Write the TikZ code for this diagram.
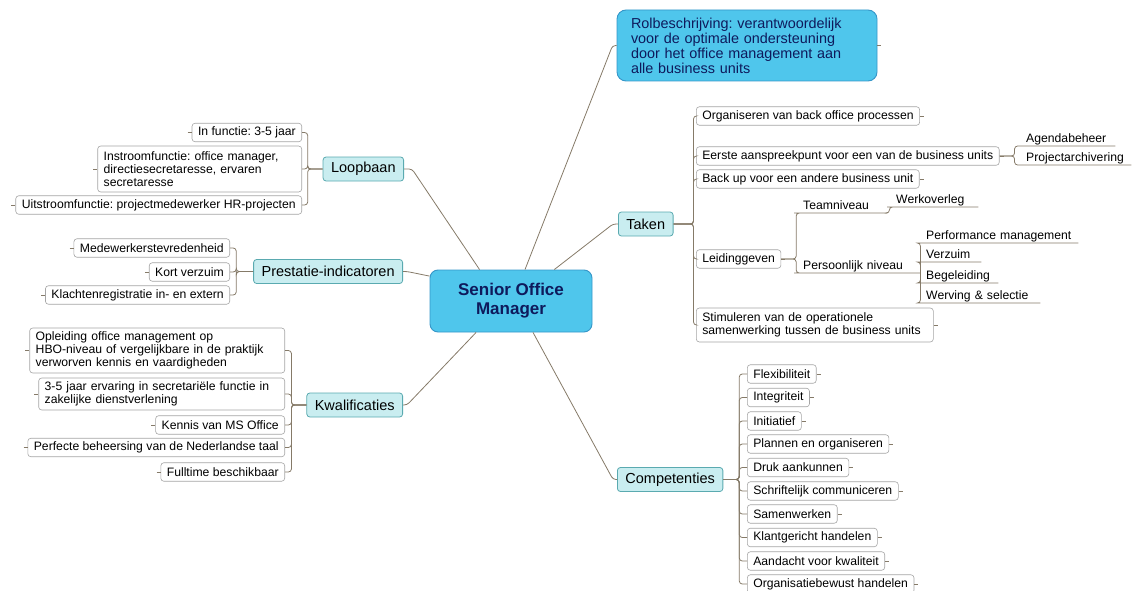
\documentclass[tikz,border=0pt]{standalone}
\usepackage{fontspec}
\setmainfont{Liberation Sans}
\usepackage{xcolor}
\usepackage{tikz}
\frenchspacing

\definecolor{skyfill}{HTML}{4FC6EC}
\definecolor{skyedge}{HTML}{3596C8}
\definecolor{navytext}{HTML}{0E1A5C}
\definecolor{tealfill}{HTML}{C9EDF0}
\definecolor{tealedge}{HTML}{5AAAB0}
\definecolor{boxedge}{HTML}{A5A5A5}
\definecolor{linkcol}{HTML}{857A68}

\newcommand{\itemfont}{\fontsize{12.2}{13}\selectfont}

\tikzset{
  link/.style={draw=linkcol, line width=0.8pt, rounded corners=3pt},
  centrebox/.style={draw=skyedge, fill=skyfill, line width=0.9pt, rounded corners=8pt,
    text=navytext, font=\bfseries\fontsize{17}{19}\selectfont, align=center,
    minimum width=162pt, minimum height=62pt},
  rolbox/.style={draw=skyedge, fill=skyfill, line width=0.9pt, rounded corners=9pt,
    text=navytext, font=\fontsize{14.4}{15}\selectfont, align=left,
    text width=232pt, inner xsep=14pt, minimum height=71pt},
  branch/.style={draw=tealedge, fill=tealfill, line width=0.8pt, rounded corners=3pt,
    font=\fontsize{14.5}{16}\selectfont, inner xsep=8pt, minimum height=24pt},
  item/.style={draw=boxedge, fill=white, line width=0.6pt, rounded corners=3pt,
    font=\itemfont, align=left, inner xsep=6pt, inner ysep=2.5pt, minimum height=18.5pt},
  itemL/.style={item, anchor=east,
    append after command={([xshift=-4pt]\tikzlastnode.west) edge[link] (\tikzlastnode.west)}},
  itemR/.style={item, anchor=west,
    append after command={(\tikzlastnode.east) edge[link] ([xshift=4pt]\tikzlastnode.east)}},
  uline/.style={font=\itemfont, anchor=south west, inner xsep=6pt, inner ysep=1pt,
    text height=9pt, text depth=2.5pt, text width=#1pt, align=left},
}

\begin{document}
\begin{tikzpicture}[x=1pt, y=-1pt]
        \useasboundingbox (0,0) rectangle (1132,591);

        \node[centrebox] (centre) at (511,301) {Senior Office\\Manager};
        \node[rolbox] (rol) at (747,45.5) {Rolbeschrijving: verantwoordelijk\\voor de optimale ondersteuning\\door het office management aan\\alle business units};

        \node[branch, anchor=east] (loop) at (404,169) {Loopbaan};
        \node[branch, anchor=east] (pres) at (403,271.5) {Prestatie-indicatoren};
        \node[branch, anchor=east] (kwal) at (403,405) {Kwalificaties};
        \node[branch, anchor=west] (taken) at (618,224) {Taken};
        \node[branch, anchor=west] (comp) at (617,479.5) {Competenties};

        \draw[link] (centre.66) -- ([xshift=-4pt]rol.west) -- (rol.west);
        \draw[link] (rol.east) -- ([xshift=4pt]rol.east);
        \draw[link] (centre.135) -- ([xshift=8pt]loop.east) -- (loop.east);
        \draw[link] (centre.163) -- ([xshift=4pt]pres.east) -- (pres.east);
        \draw[link] (centre.222) -- ([xshift=4pt]kwal.east) -- (kwal.east);
        \draw[link] (centre.36) -- ([xshift=-5pt]taken.west) -- (taken.west);
        \draw[link] (centre.305) -- ([xshift=-4pt]comp.west) -- (comp.west);

        \node[itemL] (infunc) at (302,132.5) {In functie: 3-5 jaar};
        \node[itemL, text width=192pt, minimum height=46pt] (instroom) at (302,169)
            {Instroomfunctie: office manager,\\directiesecretaresse, ervaren\\secretaresse};
        \node[itemL] (uitstroom) at (302,205) {Uitstroomfunctie: projectmedewerker HR-projecten};
        \draw[link] (loop.west) -- ++(-15,0) |- (infunc.east);
        \draw[link] (loop.west) -- ++(-15,0) |- (instroom.east);
        \draw[link] (loop.west) -- ++(-15,0) |- (uitstroom.east);

        \node[itemL] (tevred) at (230,248) {Medewerkerstevredenheid};
        \node[itemL] (kort) at (230,272) {Kort verzuim};
        \node[itemL] (klacht) at (230,295) {Klachtenregistratie in- en extern};
        \draw[link] (pres.west) -- ++(-17,0) |- (tevred.east);
        \draw[link] (pres.west) -- ++(-17,0) |- (kort.east);
        \draw[link] (pres.west) -- ++(-17,0) |- (klacht.east);

        \node[itemL, text width=243pt, minimum height=45pt] (opleid) at (285,350.5)
            {Opleiding office management op\\HBO-niveau of vergelijkbare in de praktijk\\verworven kennis en vaardigheden};
        \node[itemL, text width=234pt, minimum height=32pt] (ervaring) at (285,394)
            {3-5 jaar ervaring in secretari\"ele functie in\\zakelijke dienstverlening};
        \node[itemL] (kennis) at (285,425) {Kennis van MS Office};
        \node[itemL] (perfect) at (285,447.5) {Perfecte beheersing van de Nederlandse taal};
        \node[itemL] (fulltime) at (285,472) {Fulltime beschikbaar};
        \draw[link] (kwal.west) -- ++(-15,0) |- (opleid.east);
        \draw[link] (kwal.west) -- ++(-15,0) |- (ervaring.east);
        \draw[link] (kwal.west) -- ++(-15,0) |- (kennis.east);
        \draw[link] (kwal.west) -- ++(-15,0) |- (perfect.east);
        \draw[link] (kwal.west) -- ++(-15,0) |- (fulltime.east);

        \node[itemR] (organ) at (696,116) {Organiseren van back office processen};
        \node[itemR] (eerste) at (696,156) {Eerste aanspreekpunt voor een van de business units};
        \node[itemR] (backup) at (696,179) {Back up voor een andere business unit};
        \node[itemR] (leid) at (696,259) {Leidinggeven};
        \node[itemR, text width=225pt, minimum height=34pt] (stimul) at (696,325)
            {Stimuleren van de operationele\\samenwerking tussen de business units};
        \draw[link] (taken.east) -- ++(20,0) |- (organ.west);
        \draw[link] (taken.east) -- ++(20,0) |- (eerste.west);
        \draw[link] (taken.east) -- ++(20,0) |- (backup.west);
        \draw[link] (taken.east) -- ++(20,0) |- (leid.west);
        \draw[link] (taken.east) -- ++(20,0) |- (stimul.west);

        \node[uline=83] (agenda) at (1020,146) {Agendabeheer};
        \node[uline=99] (projarch) at (1020,165) {Projectarchivering};
        \draw[link] (eerste.east) -- ++(15,0) |- (agenda.south west) -- (agenda.south east);
        \draw[link] (eerste.east) -- ++(15,0) |- (projarch.south west) -- (projarch.south east);

        \node[uline=78] (team) at (797,213) {Teamniveau};
        \node[uline=76] (werk) at (890,207) {Werkoverleg};
        \node[uline=111] (pers) at (797,273) {Persoonlijk niveau};
        \draw[link] (leid.east) -- ++(15,0) |- (team.south west) -- (team.south east);
        \draw[link] (leid.east) -- ++(15,0) |- (pers.south west) -- (pers.south east);
        \draw[link] (team.south east) -- ++(2,0) |- (werk.south west) -- (werk.south east);

        \node[uline=146] (perf) at (920,243) {Performance management};
        \node[uline=49] (verz) at (920,262) {Verzuim};
        \node[uline=66] (begel) at (920,283) {Begeleiding};
        \node[uline=108] (werv) at (920,303) {Werving \& selectie};
        \draw[link] (pers.south east) |- (perf.south west) -- (perf.south east);
        \draw[link] (pers.south east) |- (verz.south west) -- (verz.south east);
        \draw[link] (pers.south east) |- (begel.south west) -- (begel.south east);
        \draw[link] (pers.south east) |- (werv.south west) -- (werv.south east);

        \node[itemR] (flex) at (747,374) {Flexibiliteit};
        \node[itemR] (integ) at (747,397.5) {Integriteit};
        \node[itemR] (initi) at (747,421) {Initiatief};
        \node[itemR] (plan) at (747,444) {Plannen en organiseren};
        \node[itemR] (druk) at (747,467.5) {Druk aankunnen};
        \node[itemR] (schrift) at (747,491) {Schriftelijk communiceren};
        \node[itemR] (samen) at (747,514) {Samenwerken};
        \node[itemR] (klant) at (747,537.5) {Klantgericht handelen};
        \node[itemR] (kwalit) at (747,561) {Aandacht voor kwaliteit};
        \node[itemR] (orgbew) at (747,584) {Organisatiebewust handelen};
        \draw[link] (comp.east) -- ++(16,0) |- (flex.west);
        \draw[link] (comp.east) -- ++(16,0) |- (integ.west);
        \draw[link] (comp.east) -- ++(16,0) |- (initi.west);
        \draw[link] (comp.east) -- ++(16,0) |- (plan.west);
        \draw[link] (comp.east) -- ++(16,0) |- (druk.west);
        \draw[link] (comp.east) -- ++(16,0) |- (schrift.west);
        \draw[link] (comp.east) -- ++(16,0) |- (samen.west);
        \draw[link] (comp.east) -- ++(16,0) |- (klant.west);
        \draw[link] (comp.east) -- ++(16,0) |- (kwalit.west);
        \draw[link] (comp.east) -- ++(16,0) |- (orgbew.west);
\end{tikzpicture}
\end{document}
